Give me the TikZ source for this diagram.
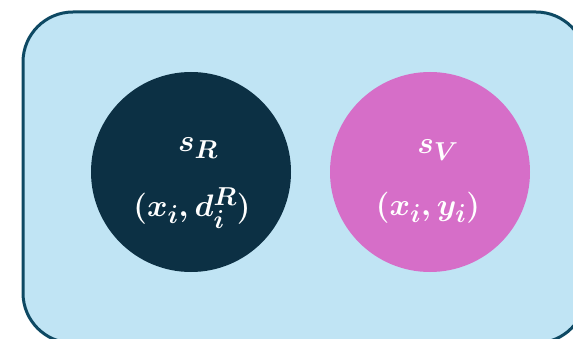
\documentclass[tikz,border=0pt]{standalone}
\usepackage{amsmath, amssymb, xcolor}
\usetikzlibrary{arrows.meta}

\definecolor{boxfill}{HTML}{C0E4F4}
\definecolor{boxline}{HTML}{0E4963}
\definecolor{navy}{HTML}{0C3044}
\definecolor{orchid}{HTML}{D66EC8}

\begin{document}
\begin{tikzpicture}[x=1pt, y=-1pt,
    set/.style={circle, minimum size=200pt, inner sep=0pt},
    lbl/.style={text=white, font=\boldmath\Huge, scale=1.25},
    pair/.style={text=white, font=\boldmath\Huge, scale=1.25}]
    \useasboundingbox (0,0) rectangle (573,339);
    \draw[boxline, line width=3pt, fill=boxfill, rounded corners=50pt] (23,12) rectangle (586,343);
    \node[set, fill=navy] (real) at (191,172) {};
    \node[set, fill=orchid] (virt) at (430,172) {};
    \node[lbl] (sr) at (198,148) {$s_R$};
    \node[pair] (pr) at (192,208) {$(x_i, d_i^R)$};
    \node[lbl] (sv) at (438,150) {$s_V$};
    \node[pair] (pv) at (428,208) {$(x_i, y_i)$};
\end{tikzpicture}
\end{document}
